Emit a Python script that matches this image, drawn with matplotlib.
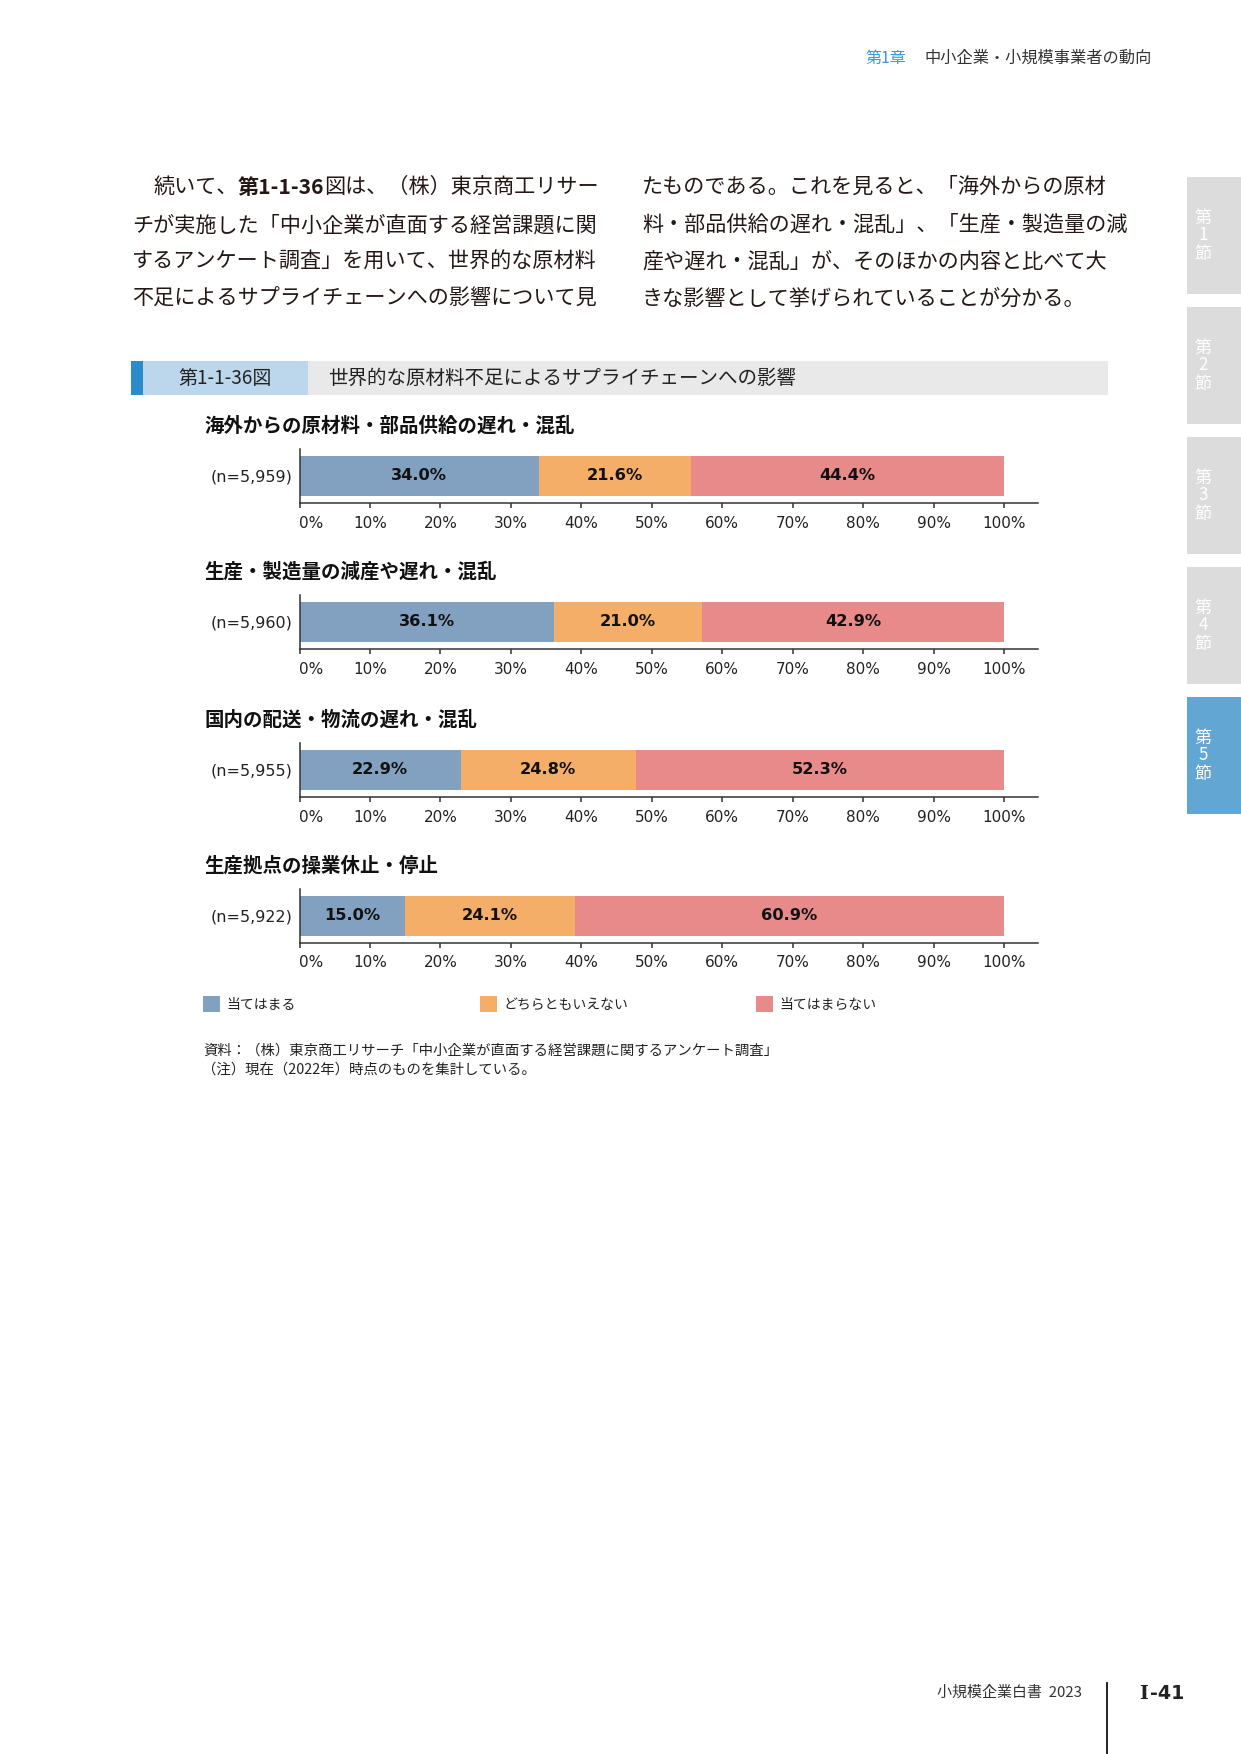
import matplotlib
matplotlib.use("Agg")
import matplotlib.pyplot as plt
from matplotlib.patches import Rectangle

plt.rcParams['font.family'] = ['Noto Sans CJK JP', 'DejaVu Sans']

# ---------------- data ----------------
categories = ['海外からの原材料・部品供給の遅れ・混乱',
              '生産・製造量の減産や遅れ・混乱',
              '国内の配送・物流の遅れ・混乱',
              '生産拠点の操業休止・停止']
n_labels = ['(n=5,959)', '(n=5,960)', '(n=5,955)', '(n=5,922)']
applies = [34.0, 36.1, 22.9, 15.0]
neutral = [21.6, 21.0, 24.8, 24.1]
not_applies = [44.4, 42.9, 52.3, 60.9]
series_names = ['当てはまる', 'どちらともいえない', '当てはまらない']
series_colors = ['#82A0C0', '#F5AE68', '#E88A8A']
xtick_values = [0, 10, 20, 30, 40, 50, 60, 70, 80, 90, 100]
xtick_labels = [f'{v}%' for v in xtick_values]

body_left = ['続いて、', '第1-1-36', '図は、（株）東京商工リサー',
             'チが実施した「中小企業が直面する経営課題に関',
             'するアンケート調査」を用いて、世界的な原材料',
             '不足によるサプライチェーンへの影響について見']
body_right = ['たものである。これを見ると、「海外からの原材',
              '料・部品供給の遅れ・混乱」、「生産・製造量の減',
              '産や遅れ・混乱」が、そのほかの内容と比べて大',
              'きな影響として挙げられていることが分かる。']
fig_title_num = '第1-1-36図'
fig_title = '世界的な原材料不足によるサプライチェーンへの影響'
source_lines = ['資料：（株）東京商工リサーチ「中小企業が直面する経営課題に関するアンケート調査」',
                '（注）現在（2022年）時点のものを集計している。']
tabs = ['第\n1\n節', '第\n2\n節', '第\n3\n節', '第\n4\n節', '第\n5\n節']

# ---------------- layout ----------------
W, H = 1241, 1754
DPI = 100
fig = plt.figure(figsize=(W / DPI, H / DPI), dpi=DPI)
PX = 72 / DPI  # pt per px


def frac(x0, y0, x1, y1):
    return [x0 / W, 1 - y1 / H, (x1 - x0) / W, (y1 - y0) / H]


ov = fig.add_axes([0, 0, 1, 1])
ov.set_xlim(0, W)
ov.set_ylim(H, 0)
ov.axis('off')

TXT = '#231815'

# header
ov.text(865, 58, '第1章', color='#3A98D6', fontsize=16 * PX, va='center', ha='left')
ov.text(924, 58, '中小企業・小規模事業者の動向', color='#333333', fontsize=16.2 * PX,
        va='center', ha='left')

# side tabs
tab_tops = [177, 307, 437, 567, 697]
for i, (t, top) in enumerate(zip(tabs, tab_tops)):
    col = '#62A6D4' if i == 4 else '#DCDCDC'
    ov.add_patch(Rectangle((1187, top), 60, 117, color=col, lw=0))
    ov.text(1203, top + 58.5, t, color='white', fontsize=17 * PX, ha='center',
            va='center', linespacing=1.0)

# body text
BFS = 21.1 * PX
line_y = [186, 224, 261, 298]
t1 = ov.text(153, line_y[0] + 7, body_left[0], fontsize=BFS, color=TXT, va='baseline')
t2 = ov.annotate(body_left[1], xy=(1, 0), xycoords=t1, fontsize=BFS, color=TXT,
                 fontweight='bold', va='bottom', ha='left')
t3 = ov.annotate(body_left[2], xy=(1, 0), xycoords=t2, fontsize=BFS, color=TXT,
                 va='bottom', ha='left')
for k, s in enumerate(body_left[3:]):
    ov.text(132, line_y[k + 1] + 7, s, fontsize=BFS, color=TXT, va='baseline')
for k, s in enumerate(body_right):
    ov.text(642, line_y[k] + 7, s, fontsize=BFS, color=TXT, va='baseline')

# figure title bar
ov.add_patch(Rectangle((131, 361), 12, 34, color='#2B8CCC', lw=0))
ov.add_patch(Rectangle((143, 361), 165, 34, color='#BCD7EC', lw=0))
ov.add_patch(Rectangle((308, 361), 800, 34, color='#E9E9E9', lw=0))
ov.text(225.5, 378, fig_title_num, fontsize=19 * PX, color='#222222', ha='center', va='center')
ov.text(328, 378, fig_title, fontsize=19.5 * PX, color='#222222', ha='left', va='center')

# ---------------- bar panels ----------------
axis_bottoms = [503, 649, 797, 943]
ax_left = 299.5
unit = 7.045
xmax = 104.8
ax_right = ax_left + xmax * unit
AX_H = 54
SPINE = '#333333'

containers = None
for i in range(len(categories)):
    yb = axis_bottoms[i]
    ax = fig.add_axes(frac(ax_left, yb - AX_H, ax_right, yb))
    ax.set_xlim(0, xmax)
    ax.set_ylim(0, 1)
    lefts = 0
    conts = []
    vals = [applies[i], neutral[i], not_applies[i]]
    for v, c, name in zip(vals, series_colors, series_names):
        bc = ax.barh([0.5], [v], left=[lefts], height=40 / AX_H, color=c, label=name,
                     edgecolor='none')
        ax.bar_label(bc, labels=[f'{v:.1f}%'], label_type='center', fontsize=11.7,
                     fontweight='bold', color='#111111', family='DejaVu Sans')
        lefts += v
        conts.append(bc)
    if containers is None:
        containers = conts
    for s in ['top', 'right']:
        ax.spines[s].set_visible(False)
    for s in ['left', 'bottom']:
        ax.spines[s].set_color(SPINE)
        ax.spines[s].set_linewidth(1.1)
    ax.set_xticks(xtick_values)
    ax.set_xticklabels(xtick_labels, family='DejaVu Sans', fontsize=11, color='#222222')
    ax.tick_params(axis='x', direction='out', length=3.8, width=1.1, color=SPINE, pad=5.2)
    ax.get_xticklabels()[0].set_horizontalalignment('left')
    ax.set_yticks([0.5])
    ax.set_yticklabels([n_labels[i]], family='DejaVu Sans', fontsize=11.5, color='#222222')
    ax.tick_params(axis='y', length=0, pad=5)
    ax.patch.set_alpha(0)
    # panel subtitle
    ov.text(204, yb - 77, categories[i], fontsize=14, fontweight='bold', color='#111111',
            ha='left', va='center')

# legend
leg_x = [203, 480, 756]
for bc, name, lx in zip(containers, series_names, leg_x):
    fig.legend(handles=[bc], labels=[name], loc='center left',
               bbox_to_anchor=(lx / W, 1 - 1004 / H), frameon=False, borderpad=0,
               borderaxespad=0, fontsize=10, handlelength=1.22, handleheight=1.5,
               handletextpad=0.5, labelcolor='#222222')

# source notes
ov.text(203, 1051, source_lines[0], fontsize=14.4 * PX, color='#222222', ha='left', va='center')
ov.text(202, 1070, source_lines[1], fontsize=14.4 * PX, color='#222222', ha='left', va='center')

# footer
ov.text(1082, 1693, '小規模企業白書  2023', fontsize=15 * PX, color='#333333', ha='right',
        va='center')
ov.plot([1107, 1107], [1683, 1754], color='#111111', lw=1.3)
p1 = ov.text(1139, 1699, 'Ⅰ', fontsize=19 * PX, color='#222222', ha='left', va='baseline',
             family=['DejaVu Serif', 'DejaVu Sans'], fontweight='bold')
ov.annotate('-41', xy=(1, 0), xycoords=p1, xytext=(1.5, 0), textcoords='offset points',
            fontsize=19 * PX, color='#222222', ha='left', va='bottom',
            family=['DejaVu Sans'], fontweight='bold')

fig.savefig('out.png', dpi=DPI)
